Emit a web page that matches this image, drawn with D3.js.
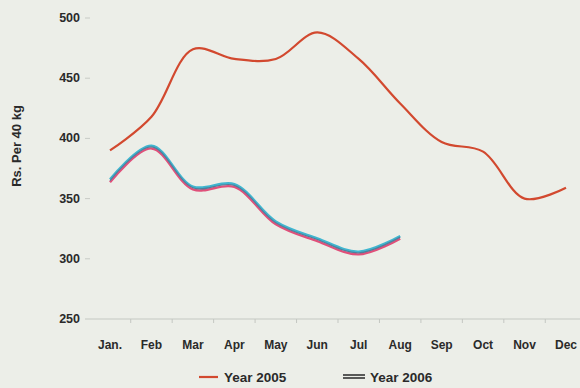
<!DOCTYPE html>
<meta charset="utf-8">
<style>
  body { margin: 0; background: #eceee8; }
  text { font-family: "Liberation Sans", Arial, sans-serif; font-weight: bold; fill: #2a2a2a; }
</style>
<body>
<script src="https://d3js.org/d3.v7.min.js"></script>
<script>

var months = ["Jan.", "Feb", "Mar", "Apr", "May", "Jun", "Jul", "Aug", "Sep", "Oct", "Nov", "Dec"];
var yTicks = [250, 300, 350, 400, 450, 500];
var year2005 = [390, 418, 474, 466, 466, 488, 466, 429, 397, 389, 350, 359];
var year2006 = [365, 393, 359, 361, 330, 316, 305, 318];

var svg = d3.select("body").append("svg")
    .attr("width", 580)
    .attr("height", 388);

var x = d3.scalePoint().domain(months).range([110, 566]);
var y = d3.scaleLinear().domain([250, 500]).range([319, 18]);

// baseline
svg.append("line")
    .attr("x1", 85).attr("x2", 580)
    .attr("y1", y(250)).attr("y2", y(250))
    .style("stroke", "#c4c7c2").style("stroke-width", 1.2);

// small ticks between months
svg.selectAll("line.mtick")
    .data(months.slice(1))
  .enter().append("line")
    .attr("class", "mtick")
    .attr("x1", function(d) { return x(d) - x.step() / 2; })
    .attr("x2", function(d) { return x(d) - x.step() / 2; })
    .attr("y1", y(250)).attr("y2", y(250) + 4)
    .style("stroke", "#c4c7c2");

// y labels
svg.selectAll("text.ytick")
    .data(yTicks)
  .enter().append("text")
    .attr("class", "ytick")
    .attr("x", 80)
    .attr("y", function(d) { return y(d) + 4; })
    .attr("text-anchor", "end")
    .style("font-size", "12.5px")
    .text(function(d) { return d; });

svg.selectAll("line.ydash")
    .data(yTicks.slice(1))
  .enter().append("line")
    .attr("class", "ydash")
    .attr("x1", 85).attr("x2", 90)
    .attr("y1", function(d) { return y(d); })
    .attr("y2", function(d) { return y(d); })
    .style("stroke", "#c8cbc6");

// x labels
svg.selectAll("text.xtick")
    .data(months)
  .enter().append("text")
    .attr("class", "xtick")
    .attr("x", function(d) { return x(d); })
    .attr("y", 349)
    .attr("text-anchor", "middle")
    .style("font-size", "12px")
    .text(function(d) { return d; });

svg.append("text")
    .attr("transform", "translate(21,146) rotate(-90)")
    .attr("text-anchor", "middle")
    .style("font-size", "13px")
    .text("Rs. Per 40 kg");

var line = d3.line()
    .x(function(d, i) { return x(months[i]); })
    .y(function(d) { return y(d); })
    .curve(d3.curveCatmullRom.alpha(0.5));

svg.append("path")
    .attr("d", line(year2005))
    .style("fill", "none")
    .style("stroke", "#d2492f")
    .style("stroke-width", 2.2);

// 2006: double coloured line
svg.append("path")
    .attr("d", line(year2006))
    .attr("transform", "translate(0,1.6)")
    .style("fill", "none").style("stroke", "#e0507a").style("stroke-width", 2.4);
svg.append("path")
    .attr("d", line(year2006))
    .attr("transform", "translate(0,-1.2)")
    .style("fill", "none").style("stroke", "#3fb6d0").style("stroke-width", 2.4);
svg.append("path")
    .attr("d", line(year2006))
    .style("fill", "none").style("stroke", "#4f7f9c").style("stroke-width", 1.2);

// legend
var lg = svg.append("g");
lg.append("line")
    .attr("x1", 199).attr("x2", 218).attr("y1", 377).attr("y2", 377)
    .style("stroke", "#d2492f").style("stroke-width", 2.2);
lg.append("text").attr("x", 224).attr("y", 382)
    .style("font-size", "13.5px").text("Year 2005");
lg.append("line")
    .attr("x1", 343).attr("x2", 365).attr("y1", 375).attr("y2", 375)
    .style("stroke", "#333").style("stroke-width", 1.6);
lg.append("line")
    .attr("x1", 343).attr("x2", 365).attr("y1", 378).attr("y2", 378)
    .style("stroke", "#333").style("stroke-width", 1.6);
lg.append("text").attr("x", 370).attr("y", 382)
    .style("font-size", "13.5px").text("Year 2006");

</script>
